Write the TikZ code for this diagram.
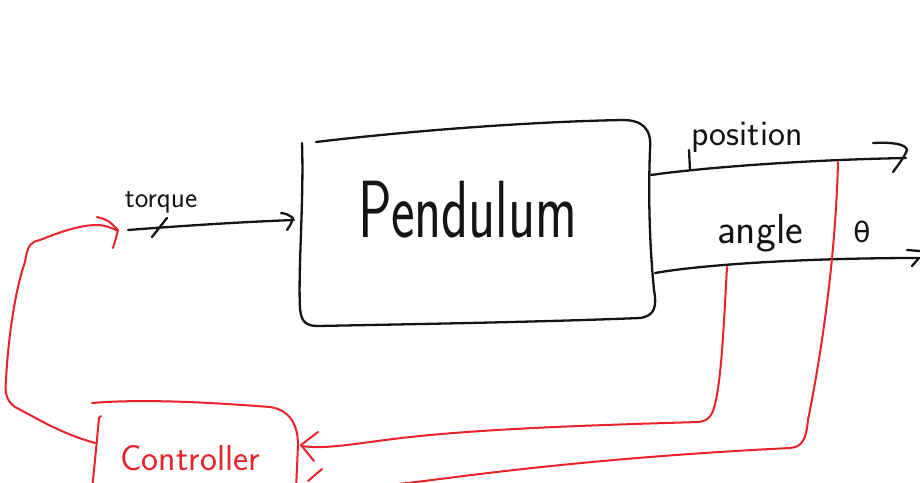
\documentclass[tikz,border=0pt]{standalone}
\usepackage{fontspec}
\newfontfamily\dejavu{DejaVu Sans}
\usetikzlibrary{calc}
\definecolor{pen}{RGB}{20,20,20}
\definecolor{rpen}{RGB}{232,34,42}
\tikzset{
  hand/.style={draw=pen,line width=2.3pt,line cap=round,line join=round},
  rhand/.style={draw=rpen,line width=2pt,line cap=round,line join=round},
  lbl/.style={inner sep=0pt,text=pen,font=\sffamily\fontsize{26}{28}\selectfont},
  rlbl/.style={inner sep=0pt,text=rpen,font=\sffamily\fontsize{36}{38}\selectfont},
}
\begin{document}
\begin{tikzpicture}[x=1pt,y=-1pt]
\useasboundingbox (0,0) rectangle (920,482);
\clip (0,0) rectangle (920,482);
\fill[white] (0,0) rectangle (920,482);

% block nodes (outlines drawn by hand below)
\node[inner sep=0pt,minimum width=355pt,minimum height=205pt] (pend) at (477,224) {};
\node[inner sep=0pt,minimum width=208pt,minimum height=90pt] (ctrl) at (196,448) {};

% ports
\coordinate (torqin) at (128,230);
\coordinate (pendin) at (294,220);
\coordinate (posout) at (651,175);
\coordinate (posend) at (906,158);
\coordinate (angout) at (655,273);
\coordinate (angend) at (919,258);
\coordinate (angtap) at (727,267);
\coordinate (postap) at (838,162);
\coordinate (ctrlin) at (301,446);
\coordinate (ctrlin2) at (306,484);
\coordinate (ctrlout) at (95,443);
\coordinate (fbend) at (118,231);

% Pendulum outline
\path[hand] (302,143) .. controls (304,200) and (298,270) .. (300,308)
  .. controls (301,322) and (306,326) .. (318,326)
  .. controls (420,324) and (540,322) .. (640,318)
  .. controls (655,316) and (657,306) .. (654,290)
  .. controls (650,250) and (648,200) .. (650,150)
  .. controls (652,128) and (642,120) .. (622,120)
  .. controls (520,122) and (400,132) .. (316,142);
\node[inner sep=0pt,text=pen,font=\sffamily\fontsize{56}{58}\selectfont] (ptxt) at (pend.center) [yshift=14pt,xshift=-9pt] {\scalebox{1}[1.45]{Pendulum}};

% Controller outline
\path[rhand] (92,403) .. controls (150,398) and (230,404) .. (270,407)
  .. controls (290,410) and (298,425) .. (298,445) -- (296,490);
\path[rhand] (101,416) -- (99,418) .. controls (97,440) and (95,460) .. (92,490);
\node[rlbl] (ctxt) at (ctrl.center) [yshift=-10pt,xshift=-6pt] {Controller};

% torque input
\path[hand] (torqin) .. controls (180,226) and (240,222) .. (pendin);
\path[hand] (281,213) .. controls (287,214) .. (293,218) .. controls (291,224) .. (287,230);
\path[hand] (152,237) -- (167,218);
\node[lbl,font=\sffamily\fontsize{29}{31}\selectfont] (tq) at (161,202) {torque};

% position output
\path[hand] (posout) .. controls (700,168) and (800,160) .. (posend);
\path[hand] (873,143) .. controls (892,142) and (906,144) .. (907,150) .. controls (904,158) and (898,165) .. (893,172);
\node[lbl,font=\sffamily\fontsize{36}{38}\selectfont] (pos) at (747,137) {position};
\path[hand] (690,170) -- (689,150);

% angle output
\path[hand] (angout) .. controls (700,265) and (800,258) .. (angend);
\path[hand] (907,250) -- (920,251);
\path[hand] (919,258) -- (912,266);
\node[lbl,font=\sffamily\fontsize{42}{44}\selectfont] (ang) at (760,233) {angle};
\node[lbl,font=\dejavu\fontsize{28}{30}\selectfont] (th) at (862,232) {θ};

% feedback angle -> controller
\path[rhand] (angtap) .. controls (724,320) and (722,370) .. (716,400)
  .. controls (713,414) and (710,421) .. (698,422)
  .. controls (600,425) and (500,428) .. (420,436)
  .. controls (360,442) and (330,450) .. (ctrlin);
\path[rhand] (318,432) -- (301,445) -- (314,461);

% feedback position -> controller
\path[rhand] (postap) .. controls (836,240) and (826,330) .. (808,420)
  .. controls (806,440) and (802,447) .. (790,448)
  .. controls (650,455) and (540,466) .. (440,479)
  .. controls (400,484) and (360,490) .. (ctrlin2);
\path[rhand] (322,469) -- (308,481);

% controller -> torque
\path[rhand] (ctrlout) .. controls (60,433) and (40,420) .. (15,407)
  .. controls (5,400) and (5,390) .. (6,380)
  .. controls (8,340) and (15,290) .. (25,262)
  .. controls (28,245) and (30,242) .. (40,240)
  .. controls (60,232) and (80,225) .. (97,225)
  .. controls (105,225) and (112,228) .. (fbend);
\path[rhand] (97,217) .. controls (108,220) .. (118,230) .. controls (116,238) .. (113,248);
\end{tikzpicture}
\end{document}
